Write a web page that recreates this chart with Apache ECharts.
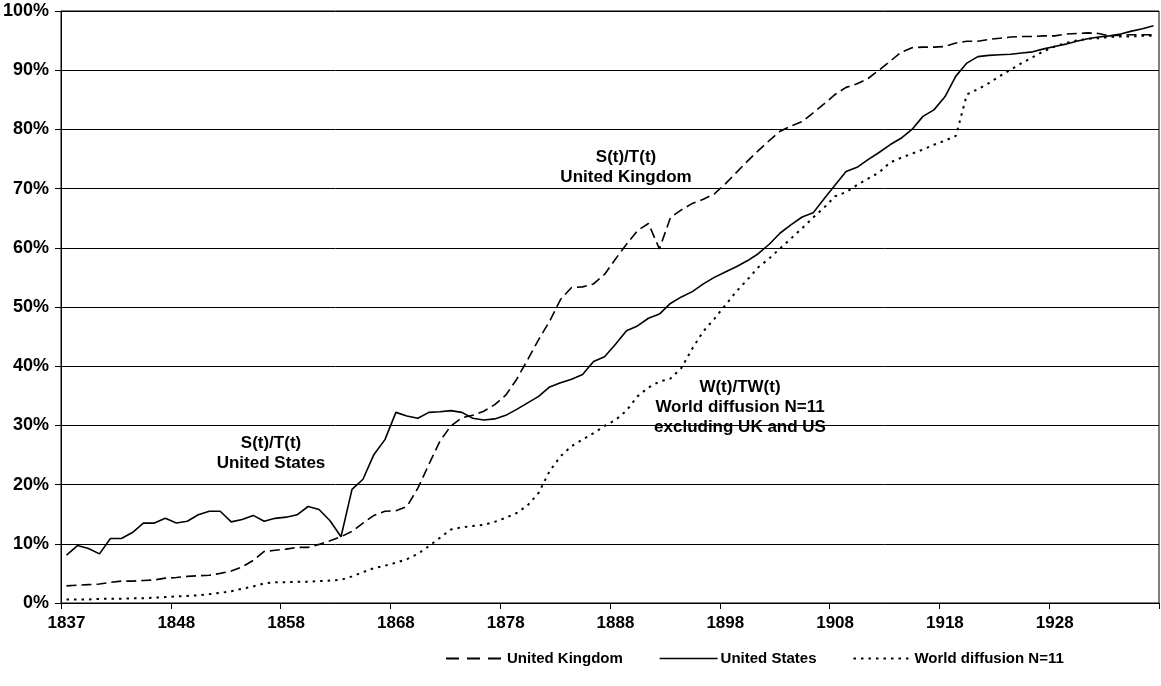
<!DOCTYPE html>
<html>
<head>
<meta charset="utf-8">
<script src="https://cdn.jsdelivr.net/npm/echarts@6/dist/echarts.min.js"></script>
<style>
  html, body { margin: 0; padding: 0; background: #fff; }
  #main { width: 1161px; height: 686px; }
</style>
</head>
<body>
<div id="main"></div>
<script>
// years on the category axis (1838 is not in the source series)
var years = [1837, 1839, 1840, 1841, 1842, 1843, 1844, 1845, 1846, 1847,
  1848, 1849, 1850, 1851, 1852, 1853, 1854, 1855, 1856, 1857,
  1858, 1859, 1860, 1861, 1862, 1863, 1864, 1865, 1866, 1867,
  1868, 1869, 1870, 1871, 1872, 1873, 1874, 1875, 1876, 1877,
  1878, 1879, 1880, 1881, 1882, 1883, 1884, 1885, 1886, 1887,
  1888, 1889, 1890, 1891, 1892, 1893, 1894, 1895, 1896, 1897,
  1898, 1899, 1900, 1901, 1902, 1903, 1904, 1905, 1906, 1907,
  1908, 1909, 1910, 1911, 1912, 1913, 1914, 1915, 1916, 1917,
  1918, 1919, 1920, 1921, 1922, 1923, 1924, 1925, 1926, 1927,
  1928, 1929, 1930, 1931, 1932, 1933, 1934, 1935, 1936, 1937];

// S(t)/T(t) United Kingdom, %
var ukData = [2.9, 3.0, 3.1, 3.2, 3.5, 3.7, 3.7, 3.8, 3.9, 4.2,
  4.3, 4.5, 4.6, 4.7, 5.0, 5.4, 6.1, 7.2, 8.7, 8.9,
  9.1, 9.4, 9.4, 9.9, 10.5, 11.2, 12.1, 13.5, 14.8, 15.5,
  15.6, 16.3, 19.4, 23.4, 27.3, 29.9, 31.3, 31.7, 32.4, 33.5,
  35.1, 37.8, 41.1, 44.5, 47.6, 51.3, 53.3, 53.4, 53.9, 55.5,
  58.1, 60.6, 62.9, 64.1, 59.8, 65.1, 66.4, 67.5, 68.2, 69.1,
  70.8, 72.7, 74.6, 76.4, 78.1, 79.7, 80.6, 81.3, 82.8, 84.3,
  85.9, 87.1, 87.7, 88.6, 90.0, 91.5, 93.0, 93.8, 93.9, 93.9,
  94.0, 94.6, 94.9, 94.9, 95.2, 95.4, 95.6, 95.7, 95.7, 95.8,
  95.8, 96.1, 96.2, 96.3, 96.2, 95.8, 95.9, 96.0, 96.0, 96.0];

// S(t)/T(t) United States, %
var usData = [8.1, 9.7, 9.2, 8.3, 10.9, 10.9, 11.9, 13.5, 13.5, 14.3,
  13.5, 13.8, 14.9, 15.5, 15.5, 13.7, 14.1, 14.8, 13.8, 14.3,
  14.5, 14.9, 16.3, 15.8, 13.9, 11.2, 19.2, 20.9, 25.1, 27.6,
  32.2, 31.6, 31.2, 32.2, 32.3, 32.5, 32.2, 31.2, 30.9, 31.1,
  31.7, 32.7, 33.8, 34.9, 36.5, 37.2, 37.8, 38.6, 40.8, 41.6,
  43.7, 46.0, 46.8, 48.1, 48.8, 50.6, 51.7, 52.6, 53.9, 55.0,
  55.9, 56.8, 57.8, 59.0, 60.6, 62.5, 63.9, 65.2, 65.9, 68.3,
  70.6, 72.9, 73.6, 74.9, 76.1, 77.4, 78.5, 80.0, 82.2, 83.3,
  85.5, 89.0, 91.2, 92.3, 92.5, 92.6, 92.7, 92.9, 93.1, 93.6,
  94.0, 94.4, 94.9, 95.3, 95.6, 95.8, 96.1, 96.6, 97.0, 97.5];

// W(t)/TW(t) world diffusion N=11, %
var worldData = [0.6, 0.6, 0.6, 0.7, 0.7, 0.7, 0.8, 0.8, 0.9, 1.0,
  1.1, 1.2, 1.3, 1.5, 1.7, 2.0, 2.4, 2.8, 3.3, 3.5,
  3.5, 3.6, 3.6, 3.7, 3.8, 3.9, 4.5, 5.2, 5.9, 6.3,
  6.8, 7.4, 8.3, 9.6, 11.0, 12.4, 12.8, 13.0, 13.2, 13.7,
  14.4, 15.2, 16.5, 18.6, 22.3, 24.8, 26.5, 27.6, 28.7, 29.9,
  30.9, 32.5, 34.9, 36.4, 37.4, 37.9, 39.7, 43.0, 45.9, 48.0,
  50.3, 52.6, 54.6, 56.7, 58.2, 59.9, 61.6, 63.3, 65.1, 66.8,
  68.7, 69.4, 70.6, 71.7, 72.7, 74.4, 75.2, 75.9, 76.6, 77.4,
  78.1, 78.9, 85.9, 86.8, 87.8, 89.0, 90.1, 91.2, 92.2, 93.2,
  94.0, 94.6, 95.0, 95.3, 95.4, 95.6, 95.7, 95.7, 95.8, 95.8];

var seriesNames = ['United Kingdom', 'United States', 'World diffusion N=11'];

var font = "'Liberation Sans', Arial, sans-serif";

var myChart = echarts.init(document.getElementById('main'), null, { renderer: 'canvas' });

// text blocks placed on the plot, like the original annotations
var annoStyle = {
    fill: '#000',
    font: 'bold 17px ' + font,
    textAlign: 'center',
    textVerticalAlign: 'middle',
    lineHeight: 20
};

var option = {
    backgroundColor: '#fff',
    animation: false,
    grid: {
        left: 61,
        right: 2,
        top: 11,
        bottom: 83,
        show: true,
        borderColor: '#000',
        borderWidth: 1
    },
    legend: {
        data: [
            { name: seriesNames[0], lineStyle: { type: [13, 8], width: 2 } },
            { name: seriesNames[1], lineStyle: { width: 1.6 } },
            { name: seriesNames[2], lineStyle: { type: [2.5, 5], width: 2 } }
        ],
        left: 440,
        top: 646,
        itemWidth: 58,
        itemHeight: 10,
        itemGap: 36,
        itemStyle: { opacity: 0 },
        textStyle: {
            color: '#000',
            fontFamily: font,
            fontWeight: 'bold',
            fontSize: 15,
            padding: [0, 0, 0, -2]
        }
    },
    xAxis: {
        type: 'category',
        data: years,
        boundaryGap: true,
        axisLine: { lineStyle: { color: '#000', width: 1 } },
        axisTick: { show: true, interval: 9, length: 6, lineStyle: { color: '#000' } },
        axisLabel: {
            interval: 9,
            color: '#000',
            fontFamily: font,
            fontWeight: 'bold',
            fontSize: 17,
            margin: 12
        },
        splitLine: { show: false }
    },
    yAxis: {
        type: 'value',
        min: 0,
        max: 100,
        interval: 10,
        axisLine: { show: true, lineStyle: { color: '#000', width: 1 } },
        axisTick: { show: true, length: 6, lineStyle: { color: '#000' } },
        axisLabel: {
            formatter: '{value}%',
            color: '#000',
            fontFamily: font,
            fontWeight: 'bold',
            fontSize: 18,
            margin: 12
        },
        splitLine: { lineStyle: { color: '#000', width: 1 } }
    },
    graphic: [
        { type: 'text', style: Object.assign({ text: 'S(t)/T(t)\nUnited Kingdom', x: 626, y: 167 }, annoStyle) },
        { type: 'text', style: Object.assign({ text: 'S(t)/T(t)\nUnited States', x: 271, y: 453 }, annoStyle) },
        { type: 'text', style: Object.assign({ text: 'W(t)/TW(t)\nWorld diffusion N=11\nexcluding UK and US', x: 740, y: 407 }, annoStyle) }
    ],
    series: [
        {
            name: seriesNames[0],
            type: 'line',
            data: ukData,
            symbol: 'none',
            color: '#000',
            lineStyle: { color: '#000', width: 1.6, type: [10, 5] }
        },
        {
            name: seriesNames[1],
            type: 'line',
            data: usData,
            symbol: 'none',
            color: '#000',
            lineStyle: { color: '#000', width: 1.6, type: 'solid' }
        },
        {
            name: seriesNames[2],
            type: 'line',
            data: worldData,
            symbol: 'none',
            color: '#000',
            lineStyle: { color: '#000', width: 2, type: [2.5, 5] }
        }
    ]
};

myChart.setOption(option);
</script>
</body>
</html>
